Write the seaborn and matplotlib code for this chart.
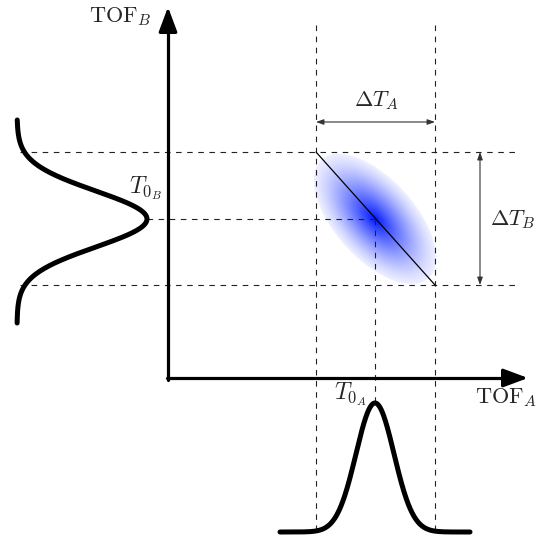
import numpy as np
import pandas as pd
import seaborn as sns
import matplotlib.pyplot as plt

# sketch coordinates (pixels, y grows downwards)
origin = [168, 378]
tip_x, tip_y = 528, 7
edges_a = [316, 435]          # TOF_A window
edges_b = [152, 285]          # TOF_B window
t0_a, t0_b = 375, 219

# gaussian profiles: centre, sigma, baseline, height, span
peak_a = [375, 19, 532, 129, 280, 470]
peak_b = [219, 28, 17, 130, 120, 323]

# correlated blob: semi-axes and tilt (deg)
blob_axes = [80, 40]
blob_angle = 48


def profile(p, n=300):
    mu, sigma, base, height, lo, hi = p
    t = np.linspace(lo, hi, n)
    return t, height * np.exp(-(t - mu) ** 2 / (2 * sigma ** 2)), base


sns.set_theme(style='white')
plt.rcParams['mathtext.fontset'] = 'cm'
plt.rcParams['font.family'] = ['DejaVu Serif']

fig = plt.figure(figsize=(5.4, 5.44), dpi=100)
ax = fig.add_axes([0, 0, 1, 1])
ax.set_xlim(0, 540)
ax.set_ylim(544, 0)
ax.axis('off')

# blob
x0, x1, y0, y1 = 280, 470, 120, 320
xs = np.linspace(x0, x1, 400)
ys = np.linspace(y0, y1, 420)
X, Y = np.meshgrid(xs, ys)
th = np.radians(blob_angle)
u = (X - t0_a) * np.cos(th) + (Y - t0_b) * np.sin(th)
v = -(X - t0_a) * np.sin(th) + (Y - t0_b) * np.cos(th)
r = np.sqrt((u / blob_axes[0]) ** 2 + (v / blob_axes[1]) ** 2)
f = 0.07 + 0.93 * np.clip(1 - r, 0, 1) ** 1.25
img = np.zeros(X.shape + (4,))
img[..., 0] = 1 - f
img[..., 1] = 1 - 0.9 * f
img[..., 2] = 1
img[..., 3] = (r <= 1).astype(float)
ax.imshow(img, extent=(x0, x1, y1, y0), origin='upper',
          interpolation='bilinear', zorder=1, aspect='auto')

dash = dict(color='#222222', lw=0.8, linestyle=(0, (5, 5)), zorder=2)

# window lines
ax.vlines(edges_a, 25, 530, **dash)
ax.hlines(edges_b, 20, 515, **dash)
ax.vlines(t0_a, t0_b, peak_a[2] - peak_a[3], **dash)
ax.hlines(t0_b, peak_b[2] + peak_b[3], t0_a, **dash)

# diagonal
ax.plot([edges_a[0], edges_a[1]], [edges_b[0], edges_b[1]],
        color='black', lw=0.9, zorder=3)

# axes with arrows
ax.plot([origin[0] - 1.5, tip_x - 15], [origin[1], origin[1]], color='black', lw=2.3, zorder=4)
ax.plot([origin[0], origin[0]], [origin[1] + 1.5, tip_y + 15], color='black', lw=2.3, zorder=4)
head = dict(arrowstyle='-|>,head_length=0.75,head_width=0.28', color='black',
            lw=2.3, shrinkA=0, shrinkB=0, mutation_scale=20)
ax.annotate('', xy=(tip_x, origin[1]), xytext=(tip_x - 25, origin[1]), arrowprops=head, zorder=5)
ax.annotate('', xy=(origin[0], tip_y), xytext=(origin[0], tip_y + 25), arrowprops=head, zorder=5)

# width arrows
small = dict(arrowstyle='<|-|>,head_length=0.45,head_width=0.16', color='#333333',
             lw=0.8, shrinkA=0, shrinkB=0, mutation_scale=10)
ax.annotate('', xy=(edges_a[0], 122), xytext=(edges_a[1], 122), arrowprops=small)
ax.annotate('', xy=(480, edges_b[0]), xytext=(480, edges_b[1]), arrowprops=small)

# gaussian profiles
t, g, base = profile(peak_a)
sns.lineplot(x=t, y=base - g, ax=ax, color='black', lw=3.6,
             sort=False, estimator=None, zorder=6)
t, g, base = profile(peak_b)
sns.lineplot(x=base + g, y=t, ax=ax, color='black', lw=3.6,
             sort=False, estimator=None, zorder=6)

fs = 16
ax.text(152, 17, r'$\mathrm{TOF}_B$', ha='right', va='center', fontsize=fs)
ax.text(537, 398, r'$\mathrm{TOF}_A$', ha='right', va='center', fontsize=fs)
ax.text(146, 188, r'$T_{0_B}$', ha='center', va='center', fontsize=17)
ax.text(351, 394, r'$T_{0_A}$', ha='center', va='center', fontsize=17)
ax.text(376, 101, r'$\Delta T_A$', ha='center', va='center', fontsize=fs)
ax.text(490, 220, r'$\Delta T_B$', ha='left', va='center', fontsize=fs)

plt.savefig('out.png', dpi=100)
